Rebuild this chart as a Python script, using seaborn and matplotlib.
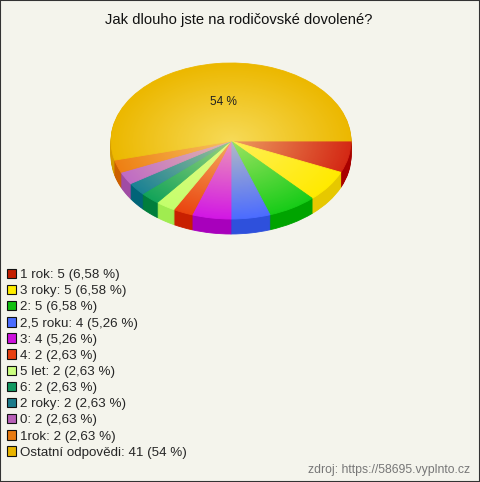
import numpy as np
import matplotlib
matplotlib.use('Agg')
import matplotlib.pyplot as plt
import seaborn as sns
from matplotlib.patches import Patch, Rectangle, Circle

# data =================================================================
labels = ['1 rok', '3 roky', '2', '2,5 roku', '3', '4', '5 let', '6',
          '2 roky', '0', '1rok', 'Ostatní odpovědi']
counts = [5, 5, 5, 4, 4, 2, 2, 2, 2, 2, 2, 41]
pct_labels = ['6,58 %', '6,58 %', '6,58 %', '5,26 %', '5,26 %', '2,63 %',
              '2,63 %', '2,63 %', '2,63 %', '2,63 %', '2,63 %', '54 %']
top_colors = ['#D42814', '#FFEA00', '#18CC18', '#4C6CFF', '#D218E4',
              '#EA4610', '#C4FF6C', '#14A45A', '#1C8294', '#C06CC4',
              '#EE8014', '#ECB800']
side_colors = ['#A80000', '#E6C800', '#00A400', '#2E50DC', '#A800BC',
               '#C82000', '#A0EC50', '#007E3C', '#006478', '#A04CA4',
               '#CC6000', '#D49C00']
legend_colors = ['#C41E00', '#FFEE00', '#10C010', '#4A6CFF', '#CC10DC',
                 '#E84010', '#CCFF80', '#109860', '#1C7C8C', '#B860B8',
                 '#E87A10', '#E8B400']
title = 'Jak dlouho jste na rodičovské dovolené?'
source = 'zdroj: https://58695.vyplnto.cz'

sns.set_theme(style='white')
plt.rcParams['font.family'] = ['Liberation Sans', 'DejaVu Sans']

W, H = 480, 482
bg = '#F4F4EC'
fig = plt.figure(figsize=(W / 100, H / 100), dpi=100, facecolor=bg)

# pie geometry in pixels (ellipse centre, radii, depth)
cx, cy, rx, ry, depth = 231, 141, 120, 78, 15
xl, xr = -1.1, 1.1
yb, yt = -1.4, 1.15
left = cx + xl * rx
top = cy - yt * ry
ax = fig.add_axes([left / W, (H - (top + (yt - yb) * ry)) / H,
                   (xr - xl) * rx / W, (yt - yb) * ry / H])
ax.set_facecolor('none')


def fill_edges(ws):
    # same-colour edge hides hairline seams between wedges
    for w in ws:
        w.set_edgecolor(w.get_facecolor())
        w.set_linewidth(0.6)


# side of the 3D pie: stacked darker copies
for off in np.arange(depth, 0, -1):
    ws, _ = ax.pie(counts, colors=side_colors, startangle=0,
                   counterclock=False, center=(0, -off / ry), frame=True)
    fill_edges(ws)

# top face
wedges, _, autotexts = ax.pie(
    counts, colors=top_colors, startangle=0, counterclock=False,
    frame=True, autopct=lambda p: '54 %' if p > 50 else '',
    pctdistance=0.5, textprops=dict(fontsize=8.5, color='#222222'))
fill_edges(wedges)

# glossy radial light on the top face
gx, gy = np.meshgrid(np.linspace(-1, 1, 300), np.linspace(-1, 1, 300))
r = np.sqrt(gx ** 2 + gy ** 2)
light = np.clip(1 - r, 0, 1)
shade = np.zeros(gx.shape + (4,))
shade[..., 0] = 1.0
shade[..., 1] = 0.96
shade[..., 2] = 0.6
shade[..., 3] = 0.58 * light ** 1.0
img = ax.imshow(shade, extent=(-1, 1, -1, 1), origin='lower',
                interpolation='bilinear', zorder=3, aspect='auto')
img.set_clip_path(Circle((0, 0), 1, transform=ax.transData))
for t in autotexts:
    t.set_zorder(5)

ax.set_xlim(xl, xr)
ax.set_ylim(yb, yt)
ax.set_aspect('auto')
ax.axis('off')

fig.text(cx / W + 8 / W, 1 - 20 / H, title, ha='center', va='center',
         fontsize=10.6, color='#111111')

handles = [Patch(facecolor=c, edgecolor='#111111', linewidth=0.8)
           for c in legend_colors]
leg_labels = [f'{l}: {n} ({p})' for l, n, p in zip(labels, counts, pct_labels)]
fig.legend(handles, leg_labels, loc='upper left',
           bbox_to_anchor=(4 / W, 1 - 266 / H), frameon=False,
           fontsize=9.6, handlelength=0.72, handleheight=0.72,
           handletextpad=0.3, labelspacing=0.28, borderaxespad=0,
           borderpad=0.2)

fig.text(470 / W, 1 - 470 / H, source, ha='right', va='center',
         fontsize=8.8, color='#777777')

fig.patches.append(Rectangle((0, 0), 1, 1, transform=fig.transFigure,
                             fill=False, edgecolor='#333333', linewidth=1.5))

fig.savefig('out.png', dpi=100, facecolor=bg)
